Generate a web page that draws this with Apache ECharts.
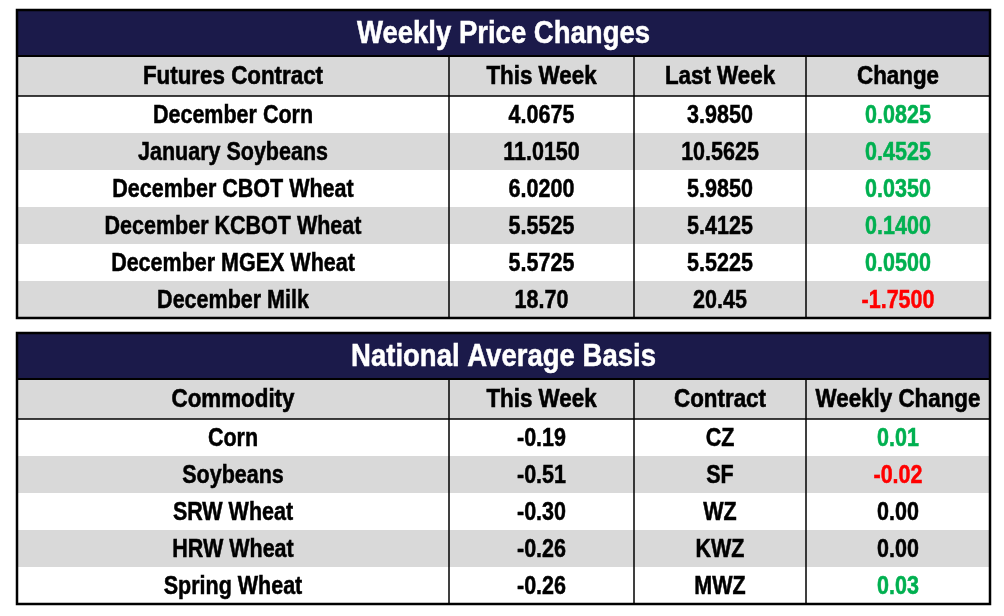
<!DOCTYPE html>
<html>
<head>
<meta charset="utf-8">
<script src="https://cdn.jsdelivr.net/npm/echarts@6/dist/echarts.min.js"></script>
<style>
html,body{margin:0;padding:0;background:#fff;}
#main{width:1004px;height:616px;}
</style>
</head>
<body>
<div id="main"></div>
<script>
// 每周价格变化
var priceTitle = 'Weekly Price Changes';
var priceHeaders = ['Futures Contract', 'This Week', 'Last Week', 'Change'];
var priceContracts = ['December Corn', 'January Soybeans', 'December CBOT Wheat', 'December KCBOT Wheat', 'December MGEX Wheat', 'December Milk'];
var priceThisWeek = ['4.0675', '11.0150', '6.0200', '5.5525', '5.5725', '18.70'];
var priceLastWeek = ['3.9850', '10.5625', '5.9850', '5.4125', '5.5225', '20.45'];
var priceChange = ['0.0825', '0.4525', '0.0350', '0.1400', '0.0500', '-1.7500'];

// 全国平均基差
var basisTitle = 'National Average Basis';
var basisHeaders = ['Commodity', 'This Week', 'Contract', 'Weekly Change'];
var basisCommodities = ['Corn', 'Soybeans', 'SRW Wheat', 'HRW Wheat', 'Spring Wheat'];
var basisThisWeek = ['-0.19', '-0.51', '-0.30', '-0.26', '-0.26'];
var basisContract = ['CZ', 'SF', 'WZ', 'KWZ', 'MWZ'];
var basisChange = ['0.01', '-0.02', '0.00', '0.00', '0.03'];

var FONT = "'Liberation Sans', Arial, sans-serif";
var NAVY = '#1b1a4a';
var GRAY = '#d9d9d9';
var colEdges = [17, 449, 634, 806, 990];

var option = { animation: false, grid: [], xAxis: [], yAxis: [], series: [] };

function addGrid(rect, border, xData, yData){
    var idx = option.grid.length;
    option.grid.push({
        left: rect[0], top: rect[1], width: rect[2], height: rect[3],
        show: border > 0,
        borderColor: '#000',
        borderWidth: border,
        backgroundColor: 'transparent',
        z: 10
    });
    option.xAxis.push({ type: 'category', gridIndex: idx, data: xData, show: false });
    option.yAxis.push({ type: 'category', gridIndex: idx, data: yData, inverse: true, show: false });
    return idx;
}

function signColor(v){
    var n = parseFloat(v);
    if(n > 0) return '#00b050';
    if(n < 0) return '#ff0000';
    return '#000';
}

// 单元格: 背景 + 文字 (文字横向压缩模拟窄字体)
function cellRender(texts, fills, colors, size, stroke){
    return function(params, api){
        var c = api.coord([api.value(0), api.value(1)]);
        var s = api.size([1, 1]);
        var i = params.dataIndex;
        var textStyle = { text: texts[i], fill: colors[i], fontFamily: FONT, fontWeight: 'bold', fontSize: size, align: 'center', verticalAlign: 'middle' };
        if(stroke){
            textStyle.stroke = colors[i];
            textStyle.lineWidth = stroke;
        }
        return {
            type: 'group',
            children: [
                { type: 'rect', shape: { x: c[0] - s[0] / 2, y: c[1] - s[1] / 2, width: s[0], height: s[1] }, style: { fill: fills[i] } },
                { type: 'text', x: c[0], y: Math.round(c[1]) + 1, scaleX: 0.86, style: textStyle }
            ]
        };
    };
}

function addSeries(g, data, texts, fills, colors, size, stroke){
    option.series.push({
        type: 'custom',
        xAxisIndex: g,
        yAxisIndex: g,
        silent: true,
        data: data,
        renderItem: cellRender(texts, fills, colors, size, stroke)
    });
}

//加载表格
function addTable(top, title, headers, columns, signCols){
    var titleH = 46, headH = 40, rowH = 37;
    var nRows = columns[0].length;
    var width = colEdges[4] - colEdges[0];
    var g = addGrid([colEdges[0], top, width, titleH], 2, [title], ['title']);
    addSeries(g, [[0, 0]], [title], [NAVY], ['#fff'], 32, 0.5);
    for(var c = 0; c < columns.length; c++){
        var x = colEdges[c], w = colEdges[c + 1] - colEdges[c];
        var hg = addGrid([x, top + titleH, w, headH], 1, [headers[c]], ['head']);
        addSeries(hg, [[0, 0]], [headers[c]], [GRAY], ['#000'], 26, 0.6);
        var bg = addGrid([x, top + titleH + headH, w, nRows * rowH], 1, [headers[c]], columns[0]);
        var data = [], fills = [], colors = [];
        for(var i = 0; i < nRows; i++){
            data.push([0, i]);
            fills.push(i % 2 ? GRAY : '#fff');
            colors.push(signCols[c] ? signColor(columns[c][i]) : '#000');
        }
        addSeries(bg, data, columns[c], fills, colors, 25, 0.5);
    }
    addGrid([colEdges[0], top, width, titleH + headH + nRows * rowH], 2.5, [''], ['']);
}

addTable(10, priceTitle, priceHeaders, [priceContracts, priceThisWeek, priceLastWeek, priceChange], [false, false, false, true]);
addTable(333, basisTitle, basisHeaders, [basisCommodities, basisThisWeek, basisContract, basisChange], [false, false, false, true]);

var chart = echarts.init(document.getElementById('main'));
chart.setOption(option);
window.onresize = function(){
    chart.resize();
};
</script>
</body>
</html>
